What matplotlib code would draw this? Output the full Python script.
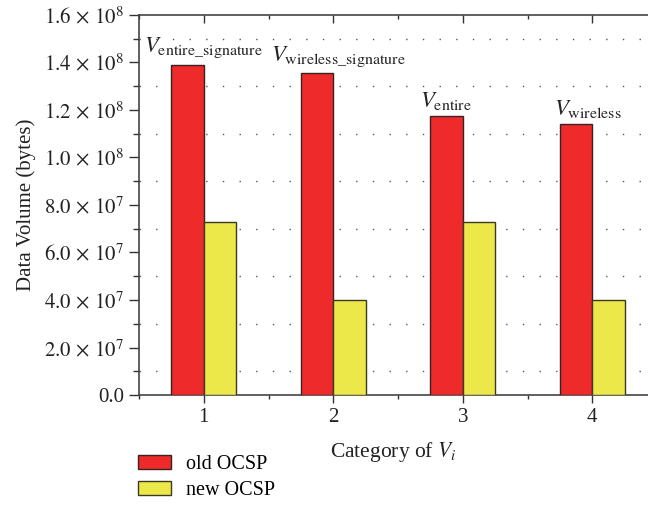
import numpy as np
import matplotlib.pyplot as plt
from matplotlib.ticker import MultipleLocator, FuncFormatter

plt.rcParams['font.family'] = ['Liberation Serif', 'DejaVu Serif']
plt.rcParams['mathtext.fontset'] = 'stix'

categories = [1, 2, 3, 4]
old_ocsp = [1.39e8, 1.356e8, 1.175e8, 1.141e8]
new_ocsp = [7.28e7, 4.0e7, 7.28e7, 4.0e7]
bar_labels = [r'$V_{\mathrm{entire\_signature}}$', r'$V_{\mathrm{wireless\_signature}}$',
              r'$V_{\mathrm{entire}}$', r'$V_{\mathrm{wireless}}$']
label_dx = [0.0, 0.04, -0.13, -0.03]

fig = plt.figure(figsize=(6.48, 5.31), dpi=100)
ax = fig.add_axes([0.2145, 0.256, 0.7855, 0.716])

x = np.array(categories)
w = 0.25
ax.bar(x - w / 2, old_ocsp, w, color='#ee2a2a', edgecolor='#3a2222', linewidth=1.0,
       label='old OCSP', zorder=3)
ax.bar(x + w / 2, new_ocsp, w, color='#ede84a', edgecolor='#3a3a22', linewidth=1.0,
       label='new OCSP', zorder=3)

for xi, yi, lab, dx in zip(x, old_ocsp, bar_labels, label_dx):
    ax.text(xi + dx, yi + 1.8e6, lab, ha='center', va='bottom', fontsize=16.5, color='#222222')

ax.set_xlim(0.5, 4.43)
ax.set_ylim(0, 1.6e8)
ax.yaxis.set_major_locator(MultipleLocator(2e7))
ax.yaxis.set_minor_locator(MultipleLocator(1e7))
ax.xaxis.set_major_locator(MultipleLocator(1))
ax.xaxis.set_minor_locator(MultipleLocator(0.5))


def fmt(v, pos):
    if v <= 0:
        return '0.0'
    e = int(np.floor(np.log10(v)))
    return r'$%.1f \,\times\, 10^{%d}$' % (v / 10 ** e, e)


ax.yaxis.set_major_formatter(FuncFormatter(fmt))
ax.xaxis.set_major_formatter(FuncFormatter(lambda v, p: '%d' % v))

ax.grid(which='minor', axis='y', color='#555555', linestyle=(0, (1, 11)), linewidth=1.0, zorder=0)
ax.grid(which='major', visible=False)

ax.tick_params(axis='y', which='major', direction='out', length=7, width=1, labelsize=15,
               colors='#333333', labelcolor='#222222')
ax.tick_params(axis='y', which='minor', direction='out', length=4, width=1, colors='#333333')
ax.tick_params(axis='x', which='both', direction='out', labelsize=15,
               colors='#333333', labelcolor='#222222')
ax.tick_params(axis='x', which='major', length=6, width=1)
ax.tick_params(axis='x', which='minor', length=3, width=1)
for s in ['left', 'bottom', 'top']:
    ax.spines[s].set_color('#444444')
    ax.spines[s].set_linewidth(1.2)
ax.spines['right'].set_visible(False)

# inward ticks along the top spine
top = ax.secondary_xaxis('top')
top.xaxis.set_major_locator(MultipleLocator(1))
top.xaxis.set_minor_locator(MultipleLocator(0.5))
top.tick_params(which='both', direction='in', labeltop=False, colors='#333333', width=1)
top.tick_params(which='major', length=6)
top.tick_params(which='minor', length=3)
top.spines['top'].set_visible(False)

ax.set_ylabel('Data Volume (bytes)', fontsize=15, color='#222222', labelpad=6)
ax.set_xlabel('Category of $V_i$', fontsize=15.5, color='#222222', labelpad=9)

fig.legend(loc='upper left', bbox_to_anchor=(0.213, 0.143), frameon=False, fontsize=14.5,
           handlelength=1.65, handleheight=0.7, labelspacing=0.35, handletextpad=0.75,
           borderaxespad=0, borderpad=0)

fig.savefig('out.png', dpi=100)
